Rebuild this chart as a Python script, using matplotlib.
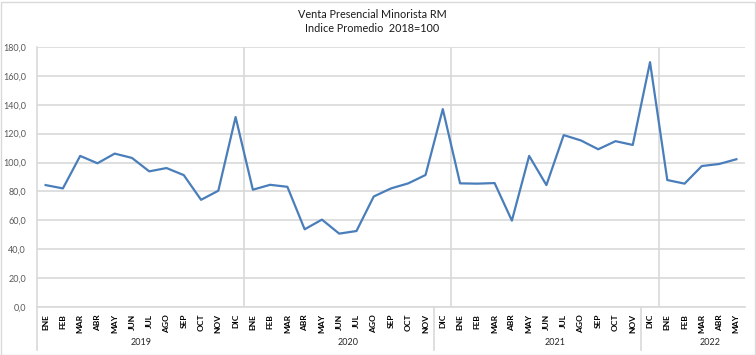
import matplotlib
matplotlib.use("Agg")
import matplotlib.pyplot as plt
from matplotlib.patches import Rectangle

plt.rcParams['font.family'] = ['Lato', 'DejaVu Sans']

# etiquetas tal como aparecen en el eje (agrupadas por año)
meses_2019 = ["ENE", "FEB", "MAR", "ABR", "MAY", "JUN", "JUL", "AGO", "SEP", "OCT", "NOV", "DIC"]
meses_2020 = ["ENE", "FEB", "MAR", "ABR", "MAY", "JUN", "JUL", "AGO", "SEP", "OCT", "NOV"]
meses_2021 = ["DIC", "ENE", "FEB", "MAR", "ABR", "MAY", "JUN", "JUL", "AGO", "SEP", "OCT", "NOV"]
meses_2022 = ["DIC", "ENE", "FEB", "MAR", "ABR", "MAY"]
anios = ["2019", "2020", "2021", "2022"]

indice = [84.4, 82.1, 104.6, 99.5, 106.2, 103.2, 93.9, 96.2, 91.3, 74.2, 80.5, 131.5,
          81.2, 84.6, 83.2, 53.8, 60.5, 50.8, 52.6, 76.5, 82.1, 85.6, 91.4,
          137.0, 85.6, 85.4, 85.8, 59.8, 104.6, 84.4, 119.0, 115.3, 109.2, 114.8, 112.2,
          169.5, 87.9, 85.4, 97.6, 99.0, 102.3]

etiquetas = meses_2019 + meses_2020 + meses_2021 + meses_2022
x = list(range(len(indice)))
gris = "#d9d9d9"

fig = plt.figure(figsize=(7.56, 3.55), dpi=100)
ax = fig.add_axes([37 / 756, 1 - 307 / 355, 708 / 756, 260 / 355])

ax.plot(x, indice, color="#4A7EBB", linewidth=1.6, solid_joinstyle="round")

ax.set_xlim(-0.5, len(indice) - 0.5)
ax.set_ylim(0, 180)
ax.set_yticks(range(0, 181, 20))
ax.set_yticklabels([f"{v},0" for v in range(0, 181, 20)], color="#595959", fontsize=6.5)
ax.tick_params(axis="y", length=0, pad=8)
ax.grid(axis="y", color=gris, linewidth=1.2)
ax.set_axisbelow(True)

ax.set_xticks(x)
ax.set_xticklabels(etiquetas, rotation=90, fontsize=6, fontweight="bold", va="top")
ax.tick_params(axis="x", length=0, pad=5)

# líneas verticales cada 12 meses
for b in [11.5, 23.5, 35.5]:
    ax.axvline(b, color=gris, linewidth=1.2, zorder=0)

for s in ["top", "right"]:
    ax.spines[s].set_visible(False)
ax.spines["left"].set_color(gris)
ax.spines["bottom"].set_color(gris)
ax.spines["left"].set_linewidth(1.2)
ax.spines["bottom"].set_linewidth(1.2)

# separadores de grupos bajo el eje
trans = ax.get_xaxis_transform()
n1 = len(meses_2019) + len(meses_2020)
n2 = n1 + len(meses_2021)
for b in [-0.5, n1 - 0.5, n2 - 0.5]:
    ax.plot([b, b], [0, -0.165], color=gris, linewidth=1.2, transform=trans, clip_on=False)

# posición de cada año bajo el eje
pos_anios = [5.5, 17.5, 29.5, 38.5]
for p, a in zip(pos_anios, anios):
    ax.text(p, -0.138, a, transform=trans, ha="center", va="center",
            fontsize=6.5, color="#262626")

fig.text(372 / 756, 1 - 14 / 355, "Venta Presencial Minorista RM", ha="center", va="center",
         fontsize=7.8, color="#1a1a1a")
fig.text(372 / 756, 1 - 29 / 355, "Indice Promedio  2018=100", ha="center", va="center",
         fontsize=7.8, color="#1a1a1a")

fig.patches.append(Rectangle((0.5 / 756, 0.5 / 355), 754 / 756, 353 / 355, transform=fig.transFigure,
                             fill=False, edgecolor=gris, linewidth=1))

plt.savefig("out.png", dpi=100)
plt.close()
